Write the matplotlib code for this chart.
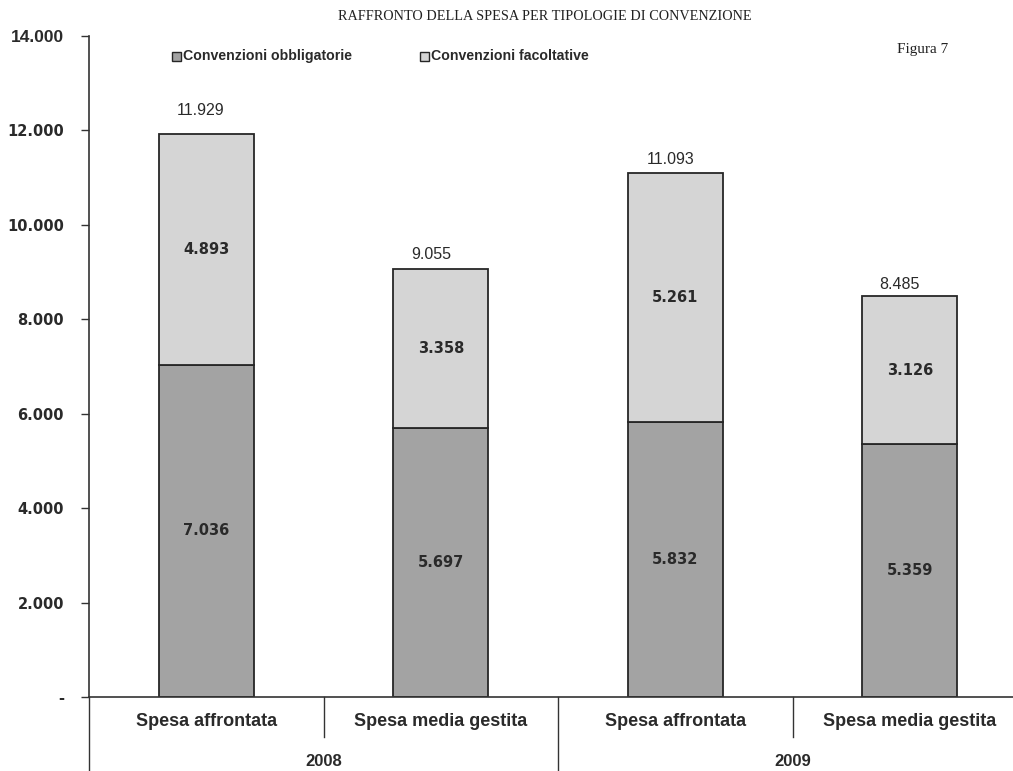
import matplotlib
matplotlib.use("Agg")
import matplotlib.pyplot as plt
from matplotlib import font_manager as fm
from matplotlib.transforms import blended_transform_factory, offset_copy
from matplotlib.patches import Rectangle

# ---- data ----
categories = ["Spesa affrontata", "Spesa media gestita", "Spesa affrontata", "Spesa media gestita"]
years = ["2008", "2009"]
obbligatorie = [7036, 5697, 5832, 5359]
facoltative = [4893, 3358, 5261, 3126]
totals = [11929, 9055, 11093, 8485]
yticks = [0, 2000, 4000, 6000, 8000, 10000, 12000, 14000]
series_names = ["Convenzioni obbligatorie", "Convenzioni facoltative"]
title = "RAFFRONTO DELLA SPESA PER TIPOLOGIE DI CONVENZIONE"

# ---- styling ----
def has_font(name):
    try:
        fm.findfont(fm.FontProperties(family=name), fallback_to_default=False)
        return True
    except Exception:
        return False

narrow = "Liberation Sans Narrow" if has_font("Liberation Sans Narrow") else "Liberation Sans"
serif = "Liberation Serif"
sans = "Liberation Sans"
verd = "DejaVu Sans"

col_low = "#a3a3a3"
col_up = "#d5d5d5"
edge = "#262626"
txt = "#2a2a2a"

total_dy_px = [16, 7, 6, 4]
total_dx_px = [-6, -10, -5, -10]

fig = plt.figure(figsize=(10.13, 7.71), dpi=100)
W, H = 1013, 771
ax_left_px, ax_bot_px, ax_top_px = 89, 697, 36
ax = fig.add_axes([ax_left_px / W, (H - ax_bot_px) / H, (W - ax_left_px) / W, (ax_bot_px - ax_top_px) / H])

unit_px = 234.5
x = list(range(len(categories)))
bw = 95 / unit_px
ax.bar(x, obbligatorie, width=bw, color=col_low, edgecolor=edge, linewidth=1.3, zorder=2)
ax.bar(x, facoltative, width=bw, bottom=obbligatorie, color=col_up, edgecolor=edge, linewidth=1.3, zorder=2)

ax.set_xlim(-0.5, -0.5 + (W - ax_left_px) / unit_px)
ax.set_ylim(0, 14000)

def fmt(v):
    return f"{v:,}".replace(",", ".")

# segment labels
for i in x:
    ax.text(i, obbligatorie[i] / 2, fmt(obbligatorie[i]), ha="center", va="center",
            family=verd, fontweight="bold", fontsize=10.5, color=txt, zorder=3)
    ax.text(i, obbligatorie[i] + facoltative[i] / 2, fmt(facoltative[i]), ha="center",
            va="center", family=verd, fontweight="bold", fontsize=10.5, color=txt, zorder=3)
    tr = offset_copy(ax.transData, fig=fig, x=total_dx_px[i], y=total_dy_px[i], units="dots")
    ax.text(i, totals[i], fmt(totals[i]), ha="center", va="bottom", transform=tr,
            family=sans, fontsize=11.5, color=txt, zorder=3)

# axes styling
for s in ["top", "right"]:
    ax.spines[s].set_visible(False)
for s in ["left", "bottom"]:
    ax.spines[s].set_color("#333333")
    ax.spines[s].set_linewidth(1.2)
ax.set_yticks(yticks)
ax.set_yticklabels(["-" if v == 0 else fmt(v) for v in yticks])
ax.tick_params(axis="y", length=6, width=1, color="#333333", pad=12)
for lab, v in zip(ax.get_yticklabels(), yticks):
    if v == 14000:
        lab.set_family(sans); lab.set_fontweight("bold"); lab.set_fontsize(12.5)
    else:
        lab.set_family(verd); lab.set_fontweight("bold"); lab.set_fontsize(10.5)
    lab.set_color(txt)
ax.set_xticks([])

# hierarchical category axis
bt = blended_transform_factory(ax.transData, ax.transAxes)
axh = ax_bot_px - ax_top_px
short_y = -(737 - ax_bot_px) / axh
long_y = -(H + 5 - ax_bot_px) / axh
for b in [-0.5, 0.5, 1.5, 2.5]:
    yb = long_y if b in (-0.5, 1.5) else short_y
    ax.plot([b, b], [0, yb], transform=bt, color="#333333", linewidth=1.0, clip_on=False)
cat_y = -(721 - ax_bot_px) / axh
for i, c in enumerate(categories):
    ax.text(i, cat_y, c, transform=bt, ha="center", va="center", family=narrow, fontweight="bold",
            fontsize=13, color=txt)
year_y = -(761 - ax_bot_px) / axh
for j, yv in enumerate(years):
    ax.text(2 * j + 0.5, year_y, yv, transform=bt, ha="center", va="center", family=narrow,
            fontweight="bold", fontsize=12, color=txt)

# title and figure label
fig.text(545 / W, 1 - 17 / H, title, ha="center", va="center", family=serif, fontsize=10.3, color="#222222")
fig.text(923 / W, 1 - 49 / H, "Figura 7", ha="center", va="center", family=serif, fontsize=11, color="#222222")

# legend (manual)
leg_items = [(172, col_low, series_names[0]), (420, col_up, series_names[1])]
for px, colr, name in leg_items:
    fig.patches.append(Rectangle((px / W, 1 - 61 / H), 9 / W, 9 / H, transform=fig.transFigure,
                                 facecolor=colr, edgecolor=edge, linewidth=1.0))
    fig.text((px + 11) / W, 1 - 56 / H, name, ha="left", va="center", family=narrow, fontweight="bold",
             fontsize=10.2, color=txt)

fig.savefig("out.png", dpi=100, facecolor="white")
